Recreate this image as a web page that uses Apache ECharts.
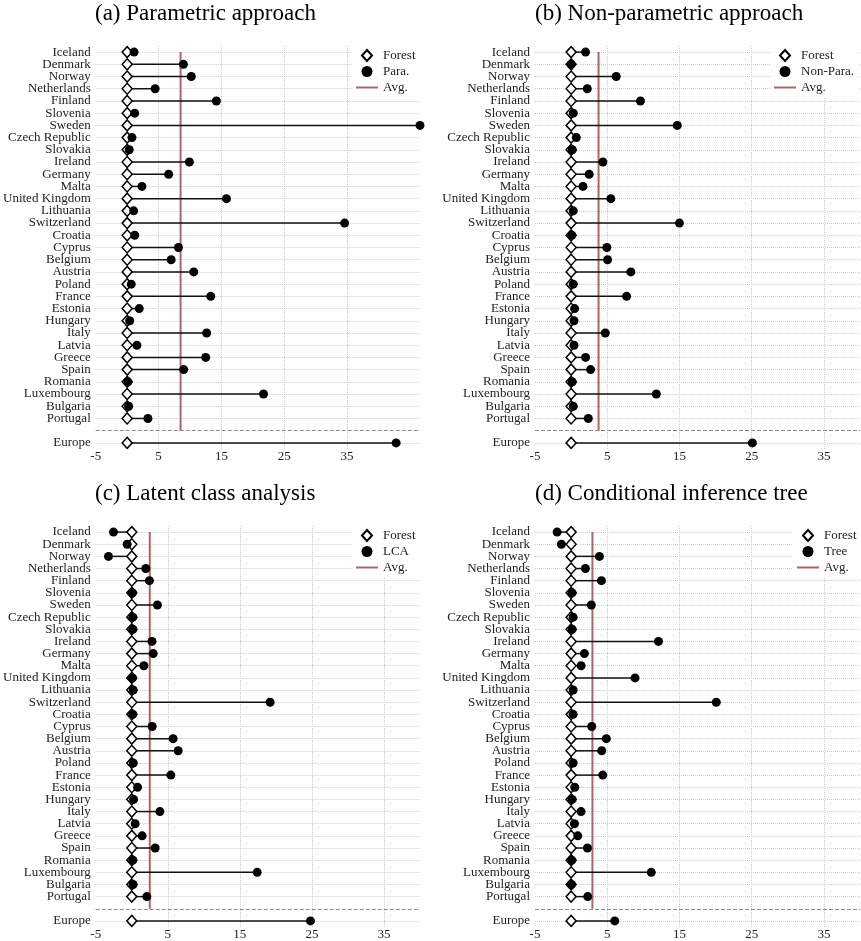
<!DOCTYPE html>
<html>
<head>
<meta charset="utf-8">
<script src="https://cdn.jsdelivr.net/npm/echarts@6/dist/echarts.min.js"></script>
<style>
html,body{margin:0;padding:0;background:#fff}
#container{width:861px;height:941px}
</style>
</head>
<body>
<div id="container"></div>
<script>
var countries = ['Iceland','Denmark','Norway','Netherlands','Finland','Slovenia','Sweden','Czech Republic','Slovakia','Ireland','Germany','Malta','United Kingdom','Lithuania','Switzerland','Croatia','Cyprus','Belgium','Austria','Poland','France','Estonia','Hungary','Italy','Latvia','Greece','Spain','Romania','Luxembourg','Bulgaria','Portugal'];
var forestValues = [0,0,0,0,0,0,0,0,0,0,0,0,0,0,0,0,0,0,0,0,0,0,0,0,0,0,0,0,0,0,0];
var forestEurope = 0;

var paraValues = [1.1,8.95,10.2,4.45,14.2,1.2,46.6,0.76,0.33,9.9,6.6,2.35,15.8,1.03,34.6,1.2,8.16,7.0,10.6,0.65,13.3,1.92,0.4,12.65,1.55,12.5,9.0,0.13,21.7,0.24,3.3];
var paraEurope = 42.8;
var paraAvg = 8.5;

var nonParaValues = [2.0,0,6.25,2.24,9.6,0.3,14.7,0.72,0.16,4.4,2.5,1.64,5.5,0.3,15.0,0.1,4.95,5.05,8.27,0.3,7.68,0.48,0.4,4.73,0.4,2.0,2.7,0.16,11.8,0.3,2.38];
var nonParaEurope = 25.1;
var nonParaAvg = 3.8;

var lcaValues = [-2.54,-0.64,-3.23,1.95,2.45,0.1,3.56,0.15,0.15,2.8,2.97,1.68,0.1,0.2,19.2,0.15,2.83,5.74,6.44,0.2,5.42,0.8,0.25,3.9,0.47,1.44,3.25,0.15,17.4,0.18,2.09];
var lcaEurope = 24.8;
var lcaAvg = 2.5;

var treeValues = [-1.94,-1.34,3.92,1.98,4.2,0.14,2.8,0.28,0.14,12.1,1.84,1.38,8.85,0.28,20.1,0.28,2.86,4.88,4.24,0.28,4.38,0.5,0.14,1.38,0.46,0.92,2.26,0.1,11.1,0.05,2.3];
var treeEurope = 6.04;
var treeAvg = 2.95;

var xTicks = [-5, 5, 15, 25, 35];

var rows = countries.concat(['', 'Europe']);
var gapRow = countries.length;
var europeRow = gapRow + 1;

var panels = [
  {title:'(a) Parametric approach', name:'Para.', values:paraValues, europe:paraEurope, avg:paraAvg, xMax:46.6, left:95, top:46, legendLeft:352, legendTop:46},
  {title:'(b) Non-parametric approach', name:'Non-Para.', values:nonParaValues, europe:nonParaEurope, avg:nonParaAvg, xMax:40, left:535, top:46, legendLeft:770, legendTop:46},
  {title:'(c) Latent class analysis', name:'LCA', values:lcaValues, europe:lcaEurope, avg:lcaAvg, xMax:40, left:95, top:526, legendLeft:352, legendTop:526},
  {title:'(d) Conditional inference tree', name:'Tree', values:treeValues, europe:treeEurope, avg:treeAvg, xMax:40, left:535, top:526, legendLeft:793, legendTop:526}
];

var font = 'Liberation Serif';
var diamondIcon = 'path://M5,0 L10,5.5 L5,11 L0,5.5 Z';
var lineIcon = 'path://M0,0 L22,0 L22,2 L0,2 Z';

var option = {
  animation: false,
  backgroundColor: '#fff',
  textStyle: {fontFamily: font},
  title: [], grid: [], xAxis: [], yAxis: [], legend: [], series: []
};

panels.forEach(function(p, k){
  option.title.push({
    text: p.title, left: p.left, top: p.top - 44, padding: 0,
    textStyle: {fontFamily: font, fontSize: 23, fontWeight: 'normal', color: '#000'}
  });
  option.grid.push({left: p.left, top: p.top, width: 325, height: 403});
  option.xAxis.push({
    type: 'value', gridIndex: k, min: -5, max: p.xMax,
    axisLine: {show: false},
    axisTick: {show: false, customValues: xTicks},
    axisLabel: {customValues: xTicks, margin: 1, fontSize: 13, color: '#222', fontFamily: font},
    splitLine: {show: true, showMinLine: false, showMaxLine: true, lineStyle: {type: 'dotted', color: '#cccccc', width: 1}}
  });
  option.yAxis.push({
    type: 'category', gridIndex: k, data: rows, inverse: true,
    axisLine: {show: false}, axisTick: {show: false},
    axisLabel: {margin: 5, fontSize: 13, color: '#222', fontFamily: font, interval: 0},
    splitLine: {show: false}
  });
  option.legend.push({
    orient: 'vertical', left: p.legendLeft, top: p.legendTop, z: 10,
    backgroundColor: '#fff', padding: [3, 4, 3, 4], itemGap: 3,
    itemWidth: 22, itemHeight: 11, symbolKeepAspect: true,
    textStyle: {fontFamily: font, fontSize: 13, color: '#222'},
    data: [
      {name: 'Forest', icon: diamondIcon},
      {name: p.name, icon: 'circle'},
      {name: 'Avg.', icon: lineIcon}
    ]
  });

  // row gridlines and the separator before Europe
  var gridMarks = [];
  rows.forEach(function(r, i){
    if (i === gapRow) {
      gridMarks.push({yAxis: i, lineStyle: {type: 'dashed', color: '#8a8a8a', width: 1}});
    } else {
      gridMarks.push({yAxis: i});
    }
  });
  option.series.push({
    type: 'line', name: 'grid' + k, xAxisIndex: k, yAxisIndex: k, data: [], z: 1, silent: true,
    markLine: {
      silent: true, symbol: 'none', label: {show: false}, animation: false, z: 1,
      lineStyle: {type: 'dotted', color: '#cccccc', width: 1},
      data: gridMarks
    }
  });

  option.series.push({
    type: 'line', name: 'Avg.', xAxisIndex: k, yAxisIndex: k, symbol: 'none', z: 2, silent: true,
    lineStyle: {color: '#b0646a', width: 2},
    itemStyle: {color: '#b0646a'},
    data: [[p.avg, 0], [p.avg, gapRow]]
  });

  var segs = [], forestPts = [], estPts = [];
  p.values.forEach(function(v, i){
    segs.push([forestValues[i], v, i]);
    forestPts.push([forestValues[i], i]);
    estPts.push([v, i]);
  });
  segs.push([forestEurope, p.europe, europeRow]);
  forestPts.push([forestEurope, europeRow]);
  estPts.push([p.europe, europeRow]);

  option.series.push({
    type: 'custom', name: 'seg' + k, xAxisIndex: k, yAxisIndex: k, z: 3, silent: true,
    encode: {x: [0, 1], y: 2},
    renderItem: function(params, api){
      var a = api.coord([api.value(0), api.value(2)]);
      var b = api.coord([api.value(1), api.value(2)]);
      return {type: 'line', shape: {x1: a[0], y1: a[1], x2: b[0], y2: b[1]},
              style: {stroke: '#111', lineWidth: 1.5}};
    },
    data: segs
  });
  option.series.push({
    type: 'scatter', name: 'Forest', xAxisIndex: k, yAxisIndex: k, z: 4,
    symbol: 'diamond', symbolSize: [10, 11],
    itemStyle: {color: '#fff', borderColor: '#000', borderWidth: 1.5, opacity: 1},
    data: forestPts
  });
  option.series.push({
    type: 'scatter', name: p.name, xAxisIndex: k, yAxisIndex: k, z: 5,
    symbol: 'circle', symbolSize: 9,
    itemStyle: {color: '#000', opacity: 1},
    data: estPts
  });
});

var myChart = echarts.init(document.getElementById('container'));
myChart.setOption(option);
</script>
</body>
</html>
